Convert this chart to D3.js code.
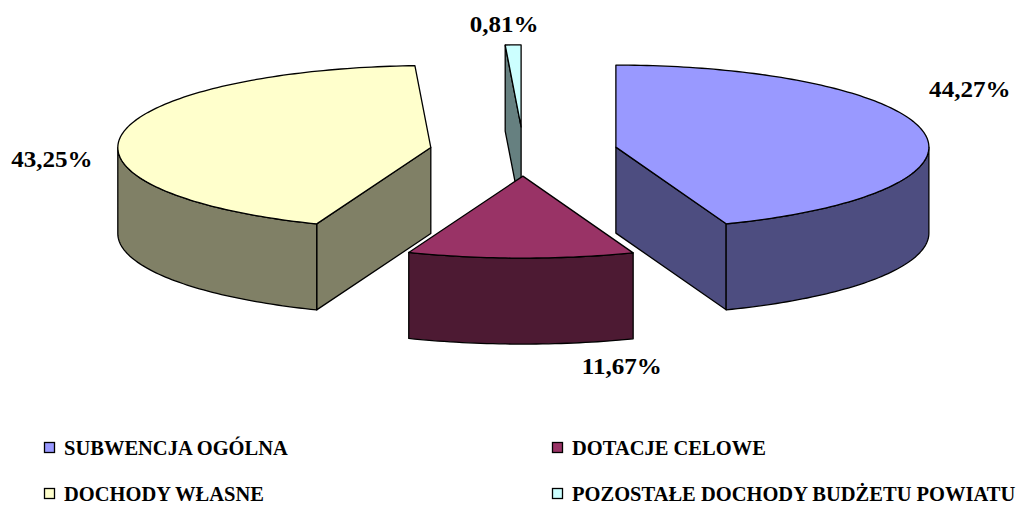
<!DOCTYPE html>
<html>
<head>
<meta charset="utf-8">
<script src="https://cdn.jsdelivr.net/npm/d3@7"></script>
<style>
  body { margin: 0; background: #fff; }
  text { font-family: "Liberation Serif", "Times New Roman", serif; font-weight: bold; fill: #000; }
</style>
</head>
<body>
<div id="chart"></div>
<script>
const categories = ['SUBWENCJA OGÓLNA', 'DOTACJE CELOWE', 'DOCHODY WŁASNE', 'POZOSTAŁE DOCHODY BUDŻETU POWIATU'];
const shares = [44.27, 11.67, 43.25, 0.81];
const shareLabels = ['44,27%', '11,67%', '43,25%', '0,81%'];

const topColors = ['#9999ff', '#993366', '#ffffcc', '#ccffff'];
const sideColors = ['#4d4d80', '#4d1a33', '#808066', '#668080'];

const width = 1017, height = 506;
// pie geometry (ellipse seen from above-front)
const cx = 523.5, cy = 151.5, rx = 313, ry = 82, depth = 86;
const explode = 0.30;
// label nudges relative to the rim point at the middle of each slice
const labelNudge = [[46, -35], [101, 116], [-70, 33], [-9, -13]];

const svg = d3.select('#chart').append('svg')
  .attr('width', width)
  .attr('height', height)
  .style('background', '#fff');

const pie = d3.pie().sort(null).value(d => d);
const arcs = pie(shares);

const line = d3.line();

function pt(c, a, dy) {
  return [c[0] + rx * Math.sin(a), c[1] - ry * Math.cos(a) + (dy || 0)];
}

function rim(c, a0, a1, dy) {
  const n = Math.max(2, Math.ceil((a1 - a0) / 0.02));
  return d3.range(n + 1).map(i => pt(c, a0 + (a1 - a0) * i / n, dy));
}

const slices = arcs.map((d, i) => {
  const mid = (d.startAngle + d.endAngle) / 2;
  const c = [cx + explode * rx * Math.sin(mid), cy - explode * ry * Math.cos(mid)];
  return { d, i, mid, c };
});

// back to front
const order = slices.slice().sort((a, b) => a.c[1] - b.c[1]);

const g = svg.append('g');

order.forEach(s => {
  const { d, i, c } = s;
  const a0 = d.startAngle, a1 = d.endAngle;
  const grp = g.append('g');

  // cut faces that face the viewer
  const faces = [];
  if (Math.sin(a0) < -1e-6) faces.push(a0);
  if (Math.sin(a1) > 1e-6) faces.push(a1);
  faces.forEach(a => {
    const p = pt(c, a);
    grp.append('path')
      .attr('d', line([c, p, [p[0], p[1] + depth], [c[0], c[1] + depth]]) + 'Z')
      .attr('fill', sideColors[i])
      .attr('stroke', '#000')
      .attr('stroke-width', 1.3)
      .attr('stroke-linejoin', 'round');
  });

  // outer wall, front half only
  const b0 = Math.max(a0, Math.PI / 2), b1 = Math.min(a1, Math.PI * 1.5);
  if (b1 > b0) {
    const upper = rim(c, b0, b1, 0);
    const lower = rim(c, b0, b1, depth).reverse();
    grp.append('path')
      .attr('d', line(upper.concat(lower)) + 'Z')
      .attr('fill', sideColors[i])
      .attr('stroke', '#000')
      .attr('stroke-width', 1.3)
      .attr('stroke-linejoin', 'round');
  }

  // top face
  grp.append('path')
    .attr('d', line([c].concat(rim(c, a0, a1, 0))) + 'Z')
    .attr('fill', topColors[i])
    .attr('stroke', '#000')
    .attr('stroke-width', 1.3)
    .attr('stroke-linejoin', 'round');
});

// percentage labels
slices.forEach(s => {
  const p = pt(s.c, s.mid);
  const x = p[0] + labelNudge[s.i][0];
  const y = p[1] + labelNudge[s.i][1];
  svg.append('text')
    .attr('transform', 'translate(' + x + ',' + y + ') scale(1.09,1)')
    .attr('text-anchor', 'middle')
    .style('font-size', '23px')
    .text(shareLabels[s.i]);
});

// legend
const legendX = d3.scalePoint().domain([0, 1]).range([44, 552]);
const legendY = d3.scalePoint().domain([0, 1]).range([442, 488]);

const legend = svg.append('g')
  .selectAll('g')
  .data(categories)
  .enter().append('g')
  .attr('transform', (name, i) => 'translate(' + legendX(i % 2) + ',' + legendY(Math.floor(i / 2)) + ')');

legend.append('rect')
  .attr('x', 0.5)
  .attr('y', 0.5)
  .attr('width', 10)
  .attr('height', 10)
  .attr('fill', (name, i) => topColors[i])
  .attr('stroke', '#000')
  .attr('stroke-width', 1.3);

legend.append('text')
  .attr('x', 20)
  .attr('y', 13)
  .style('font-size', '20.5px')
  .text(name => name);
</script>
</body>
</html>
